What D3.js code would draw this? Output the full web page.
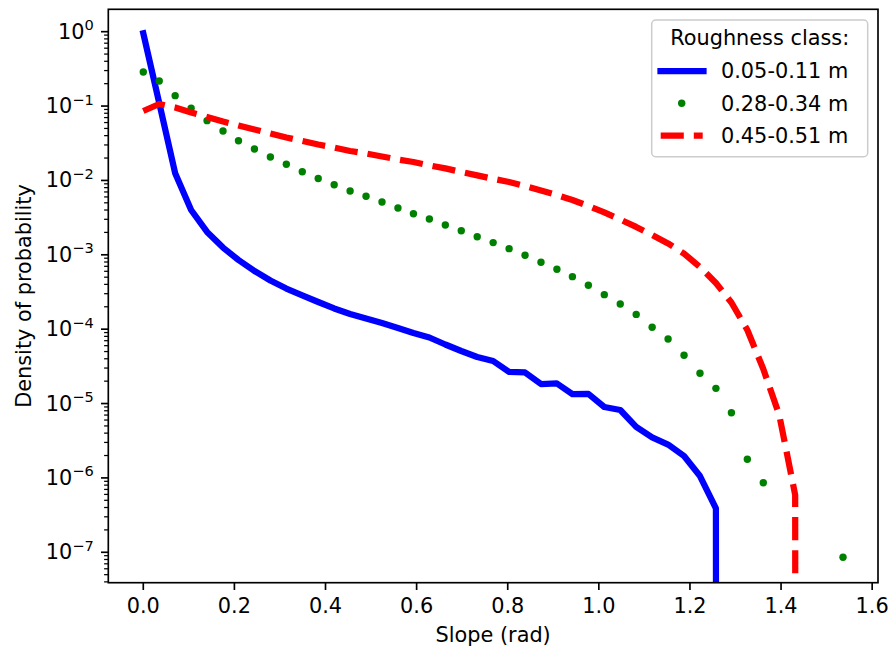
<!DOCTYPE html>
<html>
<head>
<meta charset="utf-8">
<script src="https://cdn.jsdelivr.net/npm/d3@7"></script>
<style>
  body { margin: 0; background: #fff; }
  text { font-family: "DejaVu Sans", sans-serif; fill: #000; }
</style>
</head>
<body>
<svg id="chart" width="892" height="652"></svg>
<script>
// slope bins (rad), 2 degree steps
const slopes = [0.000, 0.035, 0.070, 0.105, 0.140, 0.175, 0.209, 0.244, 0.279, 0.314,
	0.349, 0.384, 0.419, 0.454, 0.489, 0.524, 0.559, 0.593, 0.628, 0.663,
	0.698, 0.733, 0.768, 0.803, 0.838, 0.873, 0.908, 0.942, 0.977, 1.012,
	1.047, 1.082, 1.117, 1.152, 1.187, 1.222, 1.257, 1.291, 1.326, 1.361,
	1.396, 1.431, 1.466, 1.501, 1.536];

// density of probability per roughness class
const smoothClass = [0.952, 0.110, 0.0125, 0.0040, 0.00203, 0.00125, 0.000852, 0.000606, 0.000451, 0.000352,
	0.000284, 0.000232, 0.000190, 0.000160, 0.000139, 0.000121, 0.000104, 8.88e-5, 7.73e-5, 6.22e-5,
	5.09e-5, 4.23e-5, 3.73e-5, 2.66e-5, 2.62e-5, 1.83e-5, 1.86e-5, 1.34e-5, 1.35e-5, 8.99e-6,
	8.19e-6, 4.84e-6, 3.50e-6, 2.81e-6, 1.97e-6, 1.06e-6, 3.88e-7, 0, 0, 0,
	0, 0, 0, 0, 0];
const mediumClass = [0.287, 0.217, 0.138, 0.0933, 0.0636, 0.0462, 0.0342, 0.0265, 0.0207, 0.0165,
	0.0131, 0.0106, 0.00876, 0.00721, 0.00612, 0.00513, 0.00426, 0.00357, 0.00303, 0.00252,
	0.00211, 0.00175, 0.00146, 0.00121, 0.000985, 0.000793, 0.000638, 0.000508, 0.000389, 0.000291,
	0.000218, 0.000158, 0.000106, 7.38e-5, 4.45e-5, 2.55e-5, 1.60e-5, 7.53e-6, 1.78e-6, 8.62e-7,
	0, 0, 0, 0, 8.56e-8];
const roughClass = [0.0858, 0.1066, 0.0957, 0.0819, 0.0713, 0.0620, 0.0548, 0.0484, 0.0428, 0.0378,
	0.0339, 0.0304, 0.0277, 0.0249, 0.0230, 0.0210, 0.0191, 0.0177, 0.0159, 0.0145,
	0.0130, 0.0117, 0.0105, 0.00953, 0.00842, 0.00732, 0.00637, 0.00546, 0.00453, 0.00371,
	0.00298, 0.00237, 0.00185, 0.00142, 0.00104, 0.000686, 0.000418, 0.000228, 9.75e-5, 2.91e-5,
	7.02e-6, 5.89e-7, 0, 0, 0];

const classLabels = ["0.05-0.11 m", "0.28-0.34 m", "0.45-0.51 m"];
const xTicks = [0.0, 0.2, 0.4, 0.6, 0.8, 1.0, 1.2, 1.4, 1.6];
const yDecades = [-7, -6, -5, -4, -3, -2, -1, 0];

const svg = d3.select("#chart");
const box = {left: 108.3, right: 878, top: 9.3, bottom: 582.7};
const fs = 20.83;
const dotR = 3.7;

const x = d3.scaleLinear().domain([-0.0768, 1.6128]).range([box.left, box.right]);
const y = d3.scaleLog().domain([Math.pow(10, -7.409), Math.pow(10, 0.301)]).range([box.bottom, box.top]);

svg.append("defs").append("clipPath").attr("id", "plot-clip")
	.append("rect")
	.attr("x", box.left).attr("y", box.top)
	.attr("width", box.right - box.left).attr("height", box.bottom - box.top);

const plot = svg.append("g").attr("clip-path", "url(#plot-clip)");

// zero values are clipped to a tiny number, like matplotlib does on a log axis
const line = d3.line()
	.x((d, i) => x(slopes[i]))
	.y(d => y(d > 0 ? d : 1e-300));

plot.append("path")
	.datum(smoothClass)
	.attr("d", line)
	.attr("fill", "none")
	.attr("stroke", "#0000ff")
	.attr("stroke-width", 6.25)
	.attr("stroke-linejoin", "round")
	.attr("stroke-linecap", "square");

plot.selectAll(".dot")
	.data(mediumClass.map((v, i) => [slopes[i], v]).filter(d => d[1] > 0))
	.enter()
	.append("circle")
	.attr("class", "dot")
	.attr("cx", d => x(d[0]))
	.attr("cy", d => y(d[1]))
	.attr("r", dotR)
	.attr("fill", "#008000");

plot.append("path")
	.datum(roughClass)
	.attr("d", line)
	.attr("fill", "none")
	.attr("stroke", "#ff0000")
	.attr("stroke-width", 6.25)
	.attr("stroke-dasharray", "23.1,10")
	.attr("stroke-linejoin", "round")
	.attr("stroke-linecap", "butt");

// x axis ticks and labels
const axes = svg.append("g");
xTicks.forEach(t => {
	axes.append("line")
		.attr("x1", x(t)).attr("x2", x(t))
		.attr("y1", box.bottom).attr("y2", box.bottom + 7.3)
		.attr("stroke", "#000").attr("stroke-width", 1.67);
	axes.append("text")
		.attr("x", x(t)).attr("y", 613.1)
		.attr("text-anchor", "middle")
		.style("font-size", fs + "px")
		.text(d3.format(".1f")(t));
});

// y axis: major decades and minor ticks
const [yMin, yMax] = y.domain();
for (let k = -8; k <= 0; k++) {
	for (let m = 2; m <= 9; m++) {
		const v = m * Math.pow(10, k);
		if (v < yMin || v > yMax) continue;
		axes.append("line")
			.attr("x1", box.left - 4.2).attr("x2", box.left)
			.attr("y1", y(v)).attr("y2", y(v))
			.attr("stroke", "#000").attr("stroke-width", 1.25);
	}
}
yDecades.forEach(k => {
	const yy = y(Math.pow(10, k));
	axes.append("line")
		.attr("x1", box.left - 7.3).attr("x2", box.left)
		.attr("y1", yy).attr("y2", yy)
		.attr("stroke", "#000").attr("stroke-width", 1.67);
	const label = axes.append("text")
		.attr("x", box.left - 14.6).attr("y", yy + 7)
		.attr("text-anchor", "end")
		.style("font-size", fs + "px");
	label.append("tspan").text("10");
	label.append("tspan")
		.attr("dy", -8.5)
		.style("font-size", (fs * 0.7) + "px")
		.text(k === 0 ? "0" : "\u2212" + (-k));
});

// spines
axes.append("rect")
	.attr("x", box.left).attr("y", box.top)
	.attr("width", box.right - box.left).attr("height", box.bottom - box.top)
	.attr("fill", "none")
	.attr("stroke", "#000").attr("stroke-width", 1.67);

// axis titles
svg.append("text")
	.attr("x", (box.left + box.right) / 2).attr("y", 641.6)
	.attr("text-anchor", "middle")
	.style("font-size", fs + "px")
	.text("Slope (rad)");
svg.append("text")
	.attr("transform", `translate(31,${(box.top + box.bottom) / 2}) rotate(-90)`)
	.attr("text-anchor", "middle")
	.style("font-size", fs + "px")
	.text("Density of probability");

// legend
const legend = svg.append("g");
legend.append("rect")
	.attr("x", 651.7).attr("y", 20)
	.attr("width", 216).attr("height", 136.7)
	.attr("rx", 4).attr("ry", 4)
	.attr("fill", "#fff").attr("fill-opacity", 0.8)
	.attr("stroke", "#cccccc").attr("stroke-width", 1.5);
legend.append("text")
	.attr("x", 759.7).attr("y", 45)
	.attr("text-anchor", "middle")
	.style("font-size", fs + "px")
	.text("Roughness class:");

const rowY = [71, 103.3, 135.7];
legend.append("line")
	.attr("x1", 660.5).attr("x2", 703.5)
	.attr("y1", rowY[0]).attr("y2", rowY[0])
	.attr("stroke", "#0000ff").attr("stroke-width", 6.25)
	.attr("stroke-linecap", "square");
legend.append("circle")
	.attr("cx", 681.7).attr("cy", rowY[1]).attr("r", dotR)
	.attr("fill", "#008000");
legend.append("line")
	.attr("x1", 660.7).attr("x2", 702.7)
	.attr("y1", rowY[2]).attr("y2", rowY[2])
	.attr("stroke", "#ff0000").attr("stroke-width", 6.25)
	.attr("stroke-dasharray", "23.1,10");
classLabels.forEach((lab, i) => {
	legend.append("text")
		.attr("x", 721).attr("y", rowY[i] + 7.3)
		.style("font-size", fs + "px")
		.text(lab);
});
</script>
</body>
</html>
